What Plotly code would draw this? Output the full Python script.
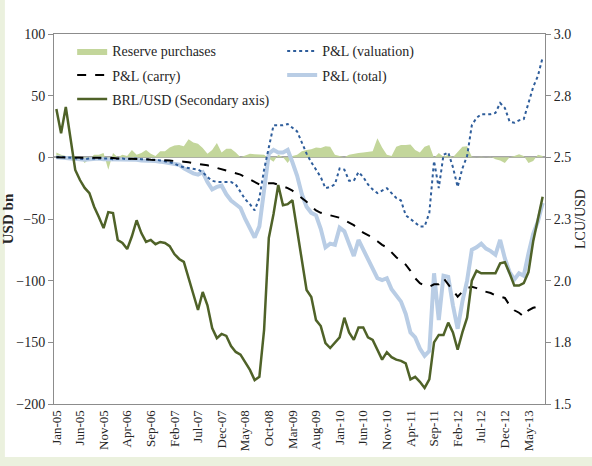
import plotly.graph_objects as go
import pandas as pd

# ---------------- data ----------------
months = pd.date_range("2005-01-01", periods=104, freq="MS").strftime("%b-%y").tolist()

tick_labels = ["Jan-05", "Jun-05", "Nov-05", "Apr-06", "Sep-06", "Feb-07", "Jul-07",
               "Dec-07", "May-08", "Oct-08", "Mar-09", "Aug-09", "Jan-10", "Jun-10",
               "Nov-10", "Apr-11", "Sep-11", "Feb-12", "Jul-12", "Dec-12", "May-13"]

reserve_purchases = [
    4, 2, 1, 0, 1, 0, -4.5, -1, 2, 2,
    3.5, -10, 3.5, 0, 2, 1, 6, 2, 3.5, 6,
    3, 1, 5, 5, 8, 9.5, 10, 9, 14.7, 12,
    11, 7.5, 3, 6, 11.6, 4, 7, 7, 4, 0,
    1.5, 3, 2.5, 2, 2, -1, -3.5, 2, 0, -4.6,
    1, 2, 5, 6, 6.5, 8, 7.5, 9, 8.5, 2,
    1, 0, 2, 3, 3.5, 4, 4.5, 5, 15.5, 8,
    2, 1, 8.5, 10, 10, 10.5, 6, 4, 8.5, 10,
    -0.5, 3.5, 0.5, 2, 0, 4, 8.5, 9, 0.5, 0,
    0.5, 0, 0.5, -1.5, -2.5, -4.5, 0, 1, 2.5, 1,
    -4.5, -3, 2, 1]

pl_valuation = [
    0, 0.5, 0, -0.5, -1, -1, -1.5, -1, -1, -0.5,
    -1, -1, -1.5, -1, -1, -1.5, -1, -1, -1.5, -1.5,
    -1.5, -2, -2.5, -3, -4, -5, -7, -8, -8.5, -9,
    -10, -12, -16, -19, -20, -20, -20, -20, -22, -28,
    -34, -38, -43, -33, -10, 8, 26, 26, 26, 27,
    24, 21, 12, 3, -4, -10, -16, -25, -24, -22,
    -9, -10, -19, -19, -12, -16, -22, -26, -29, -27,
    -25, -29, -33, -35, -47, -50, -53, -56, -56, -45,
    -3, -25, 2, 4, -8, -24, -9, 1, 26, 32,
    35, 35, 35, 36, 44, 40, 29, 28, 30, 31,
    45, 57, 66, 81]

pl_carry = [
    0, 0, 0, 0, 0, 0, -0.5, -0.5, -0.5, -0.5,
    -0.5, -0.5, -0.5, -1, -1, -1, -1, -1.5, -1.5, -1.5,
    -2, -2, -2.5, -2.5, -2.5, -3, -3, -3.5, -4, -4.5,
    -5, -5.5, -6.5, -7.5, -8.5, -9.5, -10.5, -11.5, -13, -14,
    -16, -18, -20, -22, -22, -21, -21, -22, -23.5, -25,
    -27, -30, -33, -36, -40, -43, -45, -46, -47, -48,
    -49, -51, -53, -55, -58, -61, -63, -65, -68, -71,
    -73, -77, -81, -84, -87, -92, -98, -102, -104, -105,
    -103, -103, -98, -103, -108, -113, -109, -106, -105, -106,
    -108, -109, -110, -112, -113, -114, -120, -124, -126, -129,
    -124, -122, -121, -119]

pl_total = [
    0, 0, -0.5, -1, -1, -1.5, -2, -1.5, -1.5, -1,
    -1.5, -1.5, -2, -1.5, -1.5, -2, -1.5, -2, -2.5, -2.5,
    -3, -3, -3.5, -4, -4.5, -5, -6, -9, -11, -13,
    -14, -12, -20, -26, -24, -23, -30, -35, -38, -41,
    -50, -58, -65, -56, -25, 3, 6, 4, 4, 6,
    -4, -15, -30, -40, -45, -47, -58, -73, -70, -71,
    -57, -60, -70, -80, -67, -75, -83, -90, -98, -99.5,
    -98, -107, -112, -117, -127, -142, -146, -155, -161, -157,
    -94, -132, -96, -97, -120, -139, -117, -100, -75, -73,
    -70, -74, -76, -79, -67, -82, -93, -99, -94, -96,
    -78, -62, -52, -37]

brl_usd = [
    2.696, 2.598, 2.704, 2.57, 2.449, 2.408, 2.376, 2.355, 2.30, 2.258,
    2.213, 2.278, 2.274, 2.165, 2.153, 2.128, 2.18, 2.245, 2.193, 2.157,
    2.165, 2.148, 2.157, 2.153, 2.14, 2.108, 2.088, 2.076, 2.01, 1.946,
    1.881, 1.954, 1.90, 1.808, 1.767, 1.784, 1.776, 1.735, 1.711, 1.70,
    1.67, 1.638, 1.597, 1.61, 1.80, 2.173, 2.27, 2.388, 2.306, 2.31,
    2.326, 2.205, 2.084, 1.962, 1.934, 1.84, 1.816, 1.747, 1.727, 1.75,
    1.77, 1.85, 1.79, 1.76, 1.81, 1.81, 1.77, 1.76, 1.72, 1.68,
    1.71, 1.69, 1.68, 1.675, 1.665, 1.60, 1.61, 1.59, 1.565, 1.60,
    1.75, 1.78, 1.78, 1.83, 1.79, 1.72, 1.79, 1.85, 2.0, 2.04,
    2.03, 2.03, 2.03, 2.03, 2.07, 2.075, 2.03, 1.98, 1.98, 1.99,
    2.035, 2.16, 2.25, 2.34]

right_tickvals = [1.5, 1.75, 2.0, 2.25, 2.5, 2.75, 3.0]
right_ticktext = ["1.5", "1.8", "2.0", "2.3", "2.5", "2.8", "3.0"]

# ---------------- figure ----------------
FONT = "Times New Roman, Liberation Serif, DejaVu Serif, serif"
AX = "#8c8c8c"
TXT = "#262626"

fig = go.Figure()

fig.add_trace(go.Scatter(
    x=months, y=reserve_purchases, name="Reserve purchases", mode="lines",
    fill="tozeroy", fillcolor="#c3d69b", line=dict(width=0, color="#c3d69b"),
    legend="legend", legendrank=1))

fig.add_trace(go.Scatter(
    x=months, y=pl_total, name="P&L (total)", mode="lines",
    line=dict(color="#b9cde5", width=4), legend="legend2", legendrank=4))

fig.add_trace(go.Scatter(
    x=months, y=pl_valuation, name="P&L (valuation)", mode="lines",
    line=dict(color="#2e5d9b", width=2, dash="dot"), legend="legend", legendrank=2))

fig.add_trace(go.Scatter(
    x=months, y=pl_carry, name="P&L (carry)", mode="lines",
    line=dict(color="#000000", width=2, dash="dash"), legend="legend2", legendrank=3))

fig.add_trace(go.Scatter(
    x=months, y=brl_usd, name="BRL/USD (Secondary axis)", mode="lines",
    line=dict(color="#4f6228", width=2.5), yaxis="y2", legend="legend3", legendrank=5))

leg_common = dict(orientation="h", x=0.037, xanchor="left", yanchor="middle",
                  bgcolor="rgba(0,0,0,0)", entrywidth=165, entrywidthmode="pixels",
                  font=dict(family=FONT, size=14, color=TXT),
                  traceorder="normal", itemwidth=30)

fig.update_layout(
    width=592, height=466,
    margin=dict(l=54, r=47, t=34, b=62, autoexpand=False),
    paper_bgcolor="white", plot_bgcolor="white",
    font=dict(family=FONT, size=13, color=TXT),
    showlegend=True,
    legend=dict(y=0.953, **leg_common),
    legend2=dict(y=0.888, **leg_common),
    legend3=dict(y=0.823, **leg_common),
    xaxis=dict(type="category", range=[-0.5, 103.5], tickmode="array",
               tickvals=tick_labels, ticktext=tick_labels, tickangle=-90,
               ticks="", showline=True, linecolor=AX, linewidth=1, mirror=True,
               showgrid=False, zeroline=False, automargin=False,
               tickfont=dict(family=FONT, size=13, color=TXT)),
    yaxis=dict(range=[-200, 100], tickvals=[-200, -150, -100, -50, 0, 50, 100],
               ticks="outside", ticklen=5, tickcolor=AX, showline=True,
               linecolor=AX, linewidth=1, showgrid=False, automargin=False,
               zeroline=True, zerolinecolor="#a6a6a6", zerolinewidth=1.5,
               tickfont=dict(family=FONT, size=14, color=TXT),
               title=dict(text="<b>USD bn</b>", standoff=6,
                          font=dict(family=FONT, size=15, color=TXT))),
    yaxis2=dict(overlaying="y", side="right", range=[1.5, 3.0],
                tickmode="array", tickvals=right_tickvals, ticktext=right_ticktext,
                ticks="outside", ticklen=5, tickcolor=AX, showline=True,
                linecolor=AX, linewidth=1, showgrid=False, zeroline=False,
                automargin=False,
                tickfont=dict(family=FONT, size=14, color=TXT),
                title=dict(text="LCU/USD", standoff=4,
                           font=dict(family=FONT, size=14, color=TXT))),
    shapes=[
        dict(type="rect", xref="paper", yref="paper", x0=-0.12, x1=-0.1,
             y0=-0.2, y1=1.2, fillcolor="#ebf1de", line=dict(width=0), layer="below"),
        dict(type="rect", xref="paper", yref="paper", x0=-0.12, x1=1.2,
             y0=-0.2, y1=-0.143, fillcolor="#ebf1de", line=dict(width=0), layer="below"),
    ],
)

fig.write_html("out.html", config={"displayModeBar": False},
               post_script="document.body.style.margin='0px';")
